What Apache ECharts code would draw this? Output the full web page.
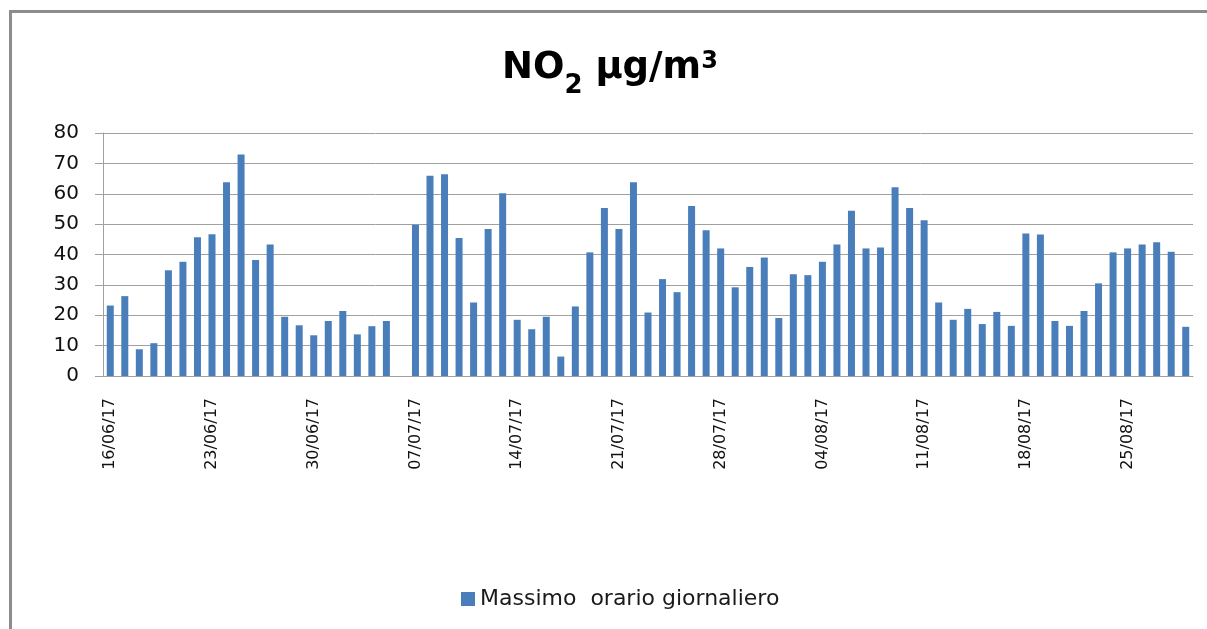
<!DOCTYPE html>
<html>
<head>
<meta charset="utf-8">
<script src="https://cdn.jsdelivr.net/npm/echarts@6/dist/echarts.min.js"></script>
<style>
  html, body { margin: 0; padding: 0; background: #fff; }
  #chart { width: 1207px; height: 629px; }
</style>
</head>
<body>
<div id="chart"></div>
<script>
const dates = [
  "16/06/17", "17/06/17", "18/06/17", "19/06/17", "20/06/17", "21/06/17", "22/06/17",
  "23/06/17", "24/06/17", "25/06/17", "26/06/17", "27/06/17", "28/06/17", "29/06/17",
  "30/06/17", "01/07/17", "02/07/17", "03/07/17", "04/07/17", "05/07/17", "06/07/17",
  "07/07/17", "08/07/17", "09/07/17", "10/07/17", "11/07/17", "12/07/17", "13/07/17",
  "14/07/17", "15/07/17", "16/07/17", "17/07/17", "18/07/17", "19/07/17", "20/07/17",
  "21/07/17", "22/07/17", "23/07/17", "24/07/17", "25/07/17", "26/07/17", "27/07/17",
  "28/07/17", "29/07/17", "30/07/17", "31/07/17", "01/08/17", "02/08/17", "03/08/17",
  "04/08/17", "05/08/17", "06/08/17", "07/08/17", "08/08/17", "09/08/17", "10/08/17",
  "11/08/17", "12/08/17", "13/08/17", "14/08/17", "15/08/17", "16/08/17", "17/08/17",
  "18/08/17", "19/08/17", "20/08/17", "21/08/17", "22/08/17", "23/08/17", "24/08/17",
  "25/08/17", "26/08/17", "27/08/17", "28/08/17", "29/08/17"
]

// massimo orario giornaliero NO2 (µg/m3), null = dato mancante
const maxOrario = [
  23.2, 26.3, 8.8, 10.8, 34.8, 37.6, 45.7,
  46.7, 63.8, 72.9, 38.2, 43.3, 19.5, 16.7,
  13.4, 18.1, 21.4, 13.7, 16.4, 18.1, null,
  49.8, 65.9, 66.4, 45.4, 24.2, 48.4, 60.2,
  18.5, 15.4, 19.5, 6.4, 22.9, 40.7, 55.3,
  48.4, 63.8, 20.9, 31.9, 27.6, 56.0, 48.0,
  42.0, 29.2, 35.9, 39.0, 19.1, 33.5, 33.2,
  37.6, 43.3, 54.4, 42.0, 42.3, 62.1, 55.3,
  51.3, 24.2, 18.5, 22.1, 17.1, 21.1, 16.5,
  46.9, 46.6, 18.1, 16.5, 21.4, 30.5, 40.7,
  42.0, 43.3, 44.0, 40.9, 16.2
]

const yTicks = [0, 10, 20, 30, 40, 50, 60, 70, 80]

const font = "DejaVu Sans"
const chart = echarts.init(document.getElementById("chart"))

chart.setOption({
  animation: false,
  backgroundColor: "#fff",
  textStyle: { fontFamily: font },
  graphic: [{
    type: "rect",
    shape: { x: 10.5, y: 11.5, width: 1400, height: 800 },
    style: { fill: "none", stroke: "#8c8c8c", lineWidth: 3 },
    silent: true
  }],
  title: {
    text: "{a|NO}{b|2}{a| µg/m}{c|3}",
    left: 502,
    top: 50,
    padding: 0,
    textStyle: {
      rich: {
        a: { fontFamily: font, fontWeight: "bold", fontSize: 37, lineHeight: 44, verticalAlign: "top", color: "#000" },
        b: { fontFamily: font, fontWeight: "bold", fontSize: 26, lineHeight: 26, padding: [23, 0, 0, 0], verticalAlign: "top", color: "#000" },
        c: { fontFamily: font, fontWeight: "bold", fontSize: 24, lineHeight: 29, verticalAlign: "top", color: "#000" }
      }
    }
  },
  legend: {
    left: 456,
    top: 583,
    icon: "rect",
    itemWidth: 14,
    itemHeight: 14,
    textStyle: { fontFamily: font, fontSize: 22, color: "#1a1a1a" },
    data: ["Massimo  orario giornaliero"]
  },
  grid: { left: 103, right: 14, top: 133, bottom: 253, containLabel: false },
  xAxis: {
    type: "category",
    data: dates,
    boundaryGap: true,
    axisLine: { lineStyle: { color: "#a0a0a0", width: 1 } },
    axisTick: { interval: 6, length: 9, lineStyle: { color: "#a0a0a0" } },
    axisLabel: { interval: 6, rotate: 90, margin: 22, fontSize: 16, color: "#111", fontFamily: font }
  },
  yAxis: {
    type: "value",
    min: yTicks[0],
    max: yTicks[yTicks.length - 1],
    interval: 10,
    axisLine: { show: true, lineStyle: { color: "#a0a0a0", width: 1 } },
    axisTick: { show: true, length: 8, lineStyle: { color: "#a0a0a0" } },
    axisLabel: { margin: 24, fontSize: 20, color: "#111", fontFamily: font },
    splitLine: { lineStyle: { color: "#a0a0a0", width: 1 } }
  },
  series: [{
    name: "Massimo  orario giornaliero",
    type: "bar",
    data: maxOrario,
    barWidth: 7,
    itemStyle: { color: "#4a7ebb" }
  }]
})
</script>
</body>
</html>
